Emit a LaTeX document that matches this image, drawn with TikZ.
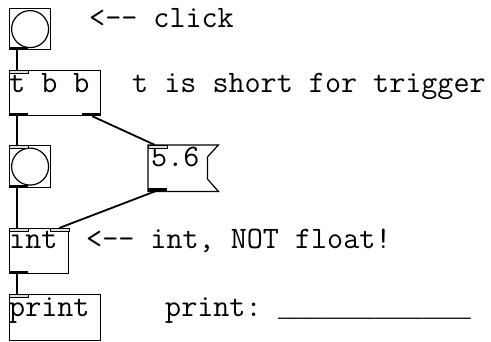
\documentclass[tikz,border=0pt]{standalone}
\usepackage{fontspec}
\newfontfamily\linefont{Liberation Mono}
\usetikzlibrary{positioning}

\tikzset{
	obj/.style={draw, line width=1.2pt, inner sep=0pt, anchor=north west},
	txt/.style={font=\ttfamily\fontsize{31.2}{31}\selectfont, inner sep=0pt, anchor=base west},
	wire/.style={line width=1.8pt},
}
\newcommand{\inlet}[1]{\draw[line width=0.6pt, fill=gray!25] (#1) rectangle ++(19,3);}
\newcommand{\outlet}[1]{\fill (#1) rectangle ++(19,-3.5);}

\begin{document}
\begin{tikzpicture}[x=1pt,y=-1pt]
	\useasboundingbox (0,0) rectangle (491,341);
	
	% objects
	\node[obj, minimum width=41pt, minimum height=41pt] (bangtop) at (9,8) {};
	\draw[line width=1.2pt] (bangtop.center) circle (18.5pt);
	\node[obj, minimum width=91pt, minimum height=45pt] (trig) at (9,70) {};
	\node[obj, minimum width=41pt, minimum height=42pt] (bangmid) at (9,145) {};
	\draw[line width=1.2pt] (bangmid.center) circle (18.5pt);
	\node[inner sep=0pt, anchor=north west, minimum width=70pt, minimum height=46pt] (numbox) at (148,145) {};
	\draw[line width=1.2pt] (numbox.north west) -- (numbox.north east) -- ++(-11,12) -- ++(0,22)
		-- (numbox.south east) -- (numbox.south west) -- cycle;
	\node[obj, minimum width=59pt, minimum height=45pt] (intobj) at (9,228) {};
	\node[obj, minimum width=91pt, minimum height=46pt] (printobj) at (9,294) {};
	
	% texts in the boxes
	\node[txt] (trigtxt) at ([shift={(0,22)}]trig.north west) {t b b};
	\node[txt] (numtxt) at ([shift={(3,21)}]numbox.north west) {5.6};
	\node[txt] (inttxt) at ([shift={(0,20)}]intobj.north west) {int};
	\node[txt] (printtxt) at ([shift={(0,22)}]printobj.north west) {print};
	
	% inlets and outlets
	\outlet{bangtop.south west}
	\inlet{trig.north west}
	\outlet{trig.south west}
	\outlet{[xshift=-19]trig.south east}
	\inlet{bangmid.north west}
	\outlet{bangmid.south west}
	\inlet{numbox.north west}
	\outlet{numbox.south west}
	\inlet{intobj.north west}
	\inlet{[xshift=-19]intobj.north east}
	\outlet{intobj.south west}
	\inlet{printobj.north west}
	
	% connections
	\draw[wire] ([xshift=8]bangtop.south west) -- ([xshift=8]trig.north west);
	\draw[wire] ([xshift=8]trig.south west) -- ([xshift=8]bangmid.north west);
	\draw[wire] ([xshift=-9]trig.south east) -- ([xshift=7]numbox.north west);
	\draw[wire] ([xshift=8]bangmid.south west) -- ([xshift=8]intobj.north west);
	\draw[wire] ([xshift=7]numbox.south west) -- ([xshift=-10]intobj.north east);
	\draw[wire] ([xshift=8]intobj.south west) -- ([xshift=8]printobj.north west);
	
	% comments
	\node[txt] (c1) at (89,27) {<-{}- click};
	\node[txt] (c2) at (132,92) {t is short for trigger};
	\node[txt] (c3) at (86,248) {<-{}- int, NOT float!};
	\node[txt] (c4) at (165,316) {print: \hspace{-5pt}{\linefont\fontsize{26.8}{27}\selectfont\_\_\_\_\_\_\_\_\_\_\_\_}};
\end{tikzpicture}
\end{document}
